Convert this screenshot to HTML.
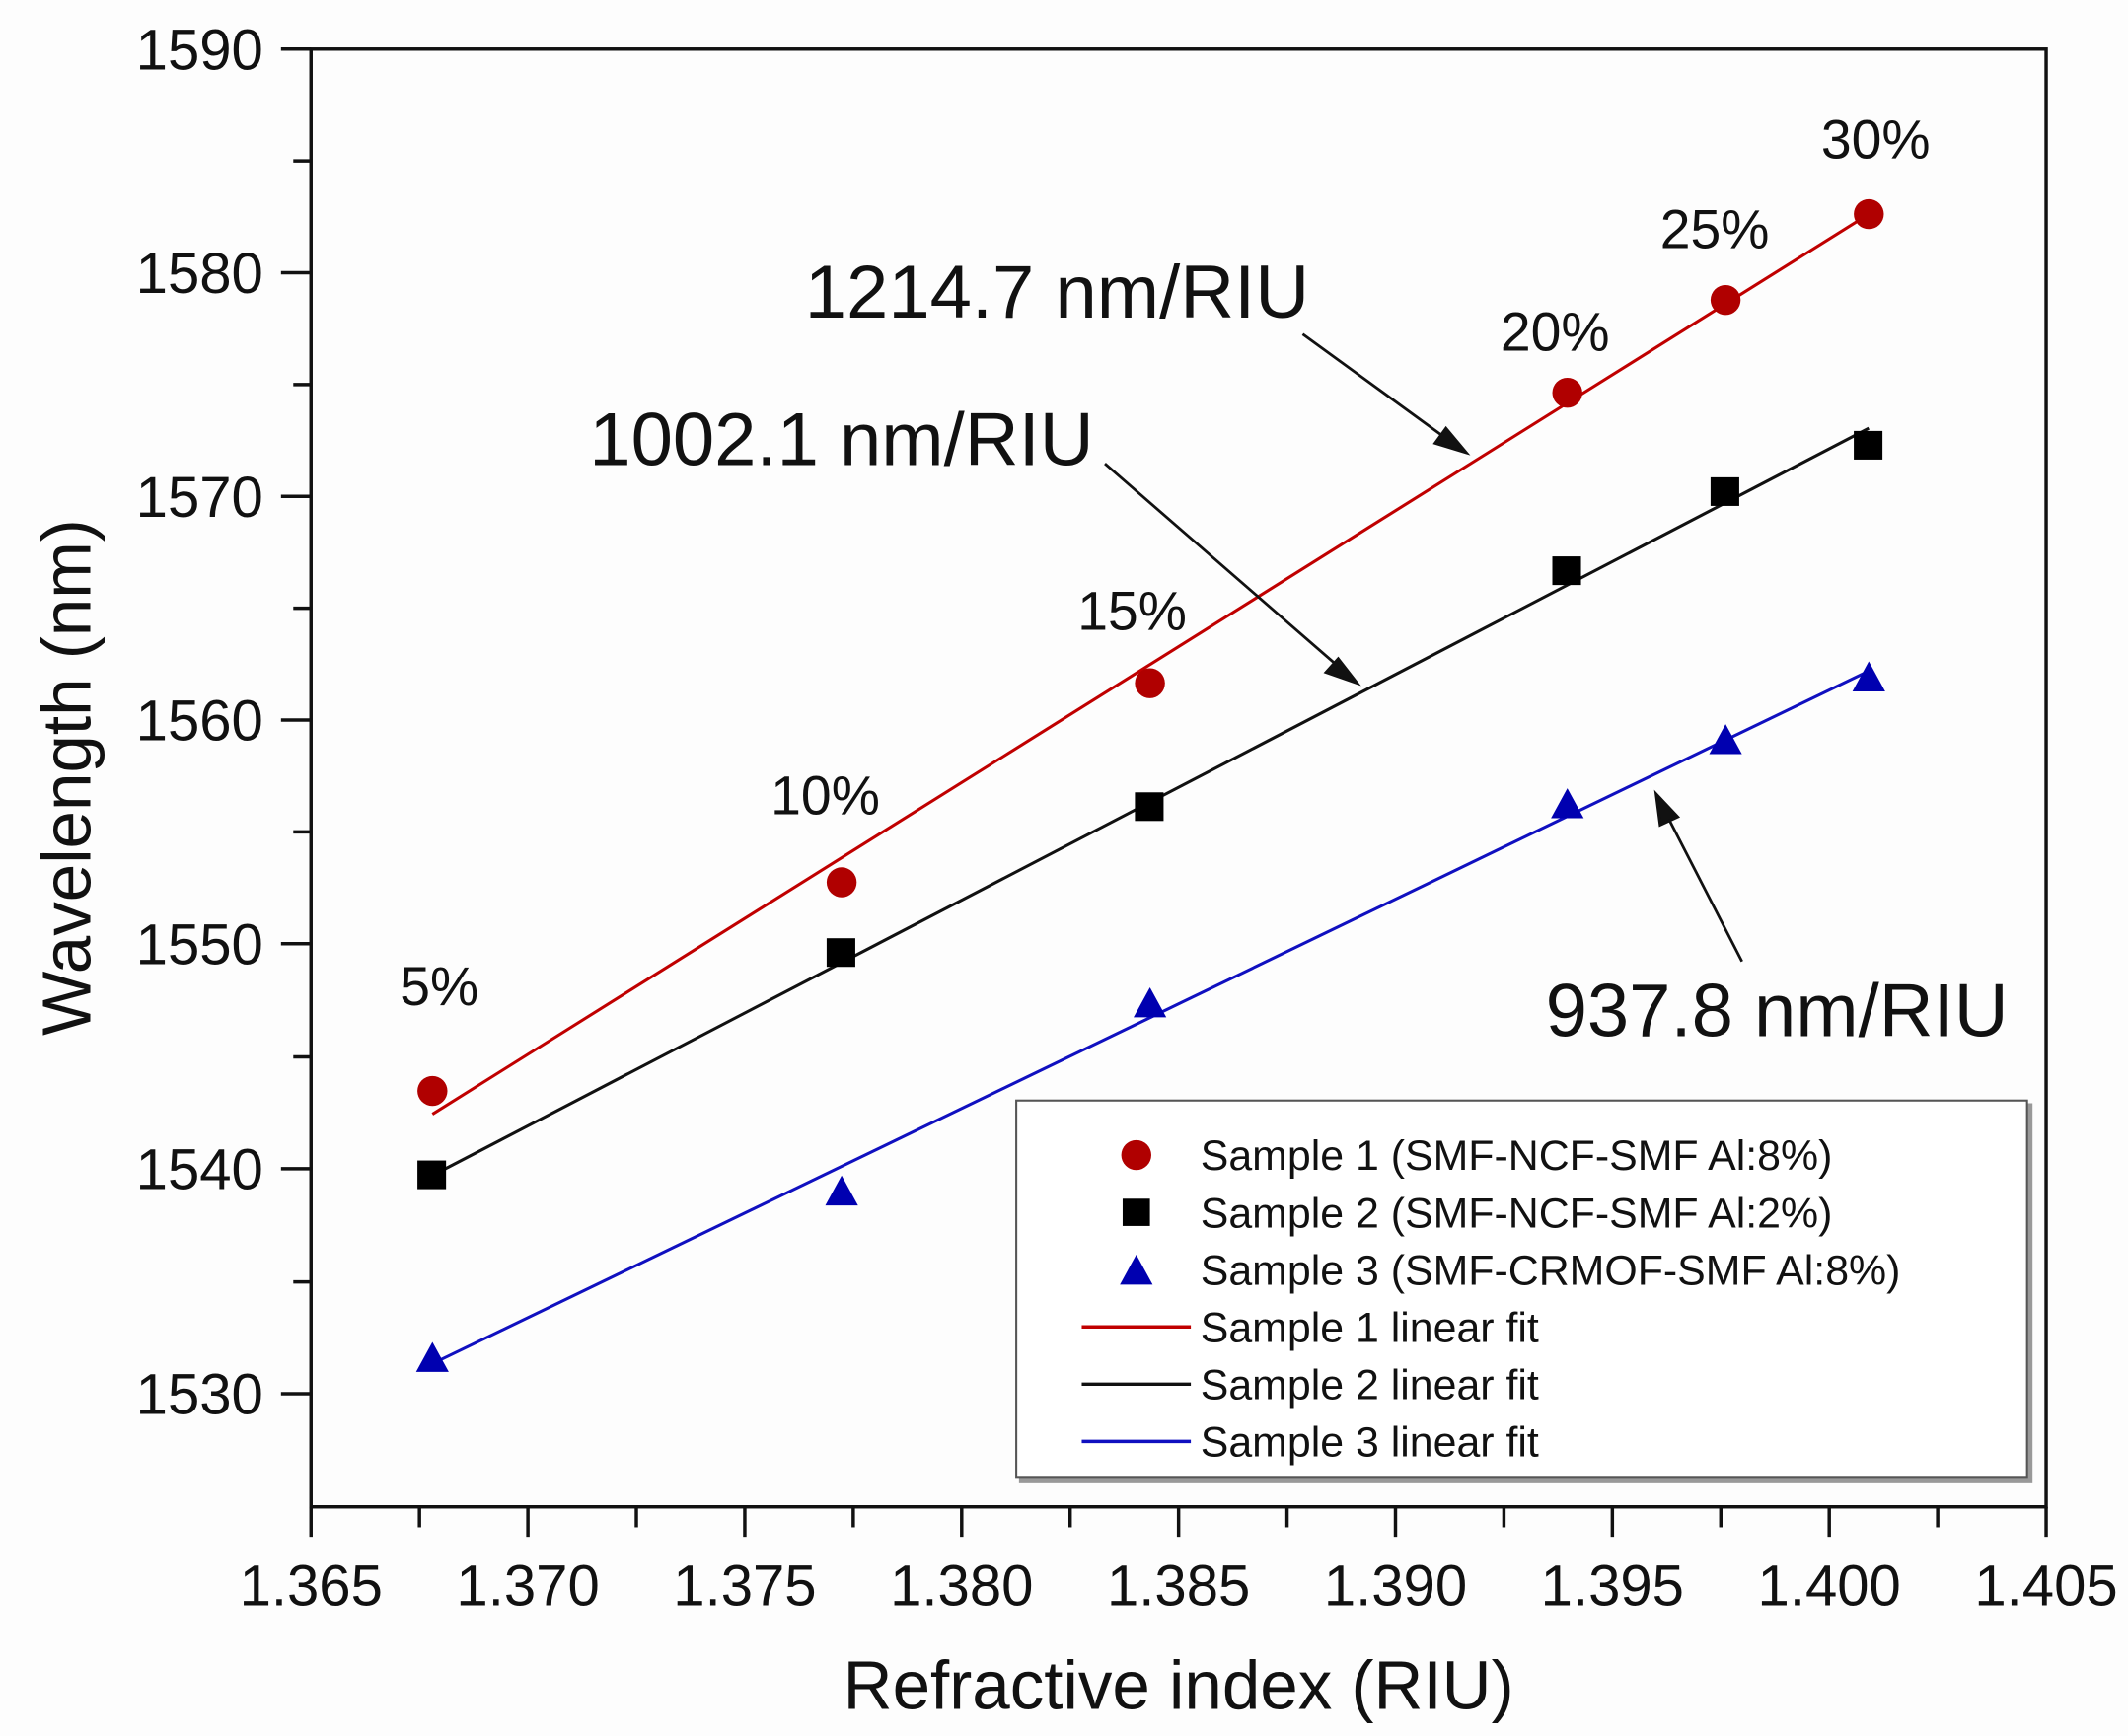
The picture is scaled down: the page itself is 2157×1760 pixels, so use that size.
<!DOCTYPE html>
<html><head><meta charset="utf-8"><style>
html,body{margin:0;padding:0;background:#fff;}
svg{display:block;}
text{font-family:"Liberation Sans",Arial,sans-serif;fill:#111;}
</style></head><body>
<svg width="2157" height="1760" viewBox="0 0 1560 1273" preserveAspectRatio="none" xmlns="http://www.w3.org/2000/svg">
<rect width="1560" height="1273" fill="#fdfdfd"/>
<rect x="228" y="36" width="1272" height="1069" fill="none" stroke="#111" stroke-width="2.5"/>
<g stroke="#111" stroke-width="2.5">
<line x1="206" y1="36" x2="228" y2="36"/>
<line x1="206" y1="200" x2="228" y2="200"/>
<line x1="206" y1="364" x2="228" y2="364"/>
<line x1="206" y1="528" x2="228" y2="528"/>
<line x1="206" y1="692" x2="228" y2="692"/>
<line x1="206" y1="857" x2="228" y2="857"/>
<line x1="206" y1="1022" x2="228" y2="1022"/>
<line x1="215" y1="118" x2="228" y2="118"/>
<line x1="215" y1="282" x2="228" y2="282"/>
<line x1="215" y1="446" x2="228" y2="446"/>
<line x1="215" y1="610" x2="228" y2="610"/>
<line x1="215" y1="775" x2="228" y2="775"/>
<line x1="215" y1="940" x2="228" y2="940"/>
<line x1="228" y1="1105" x2="228" y2="1127"/>
<line x1="387" y1="1105" x2="387" y2="1127"/>
<line x1="546" y1="1105" x2="546" y2="1127"/>
<line x1="705" y1="1105" x2="705" y2="1127"/>
<line x1="864" y1="1105" x2="864" y2="1127"/>
<line x1="1023" y1="1105" x2="1023" y2="1127"/>
<line x1="1182" y1="1105" x2="1182" y2="1127"/>
<line x1="1341" y1="1105" x2="1341" y2="1127"/>
<line x1="1500" y1="1105" x2="1500" y2="1127"/>
<line x1="307.5" y1="1105" x2="307.5" y2="1120"/>
<line x1="466.5" y1="1105" x2="466.5" y2="1120"/>
<line x1="625.5" y1="1105" x2="625.5" y2="1120"/>
<line x1="784.5" y1="1105" x2="784.5" y2="1120"/>
<line x1="943.5" y1="1105" x2="943.5" y2="1120"/>
<line x1="1102.5" y1="1105" x2="1102.5" y2="1120"/>
<line x1="1261.5" y1="1105" x2="1261.5" y2="1120"/>
<line x1="1420.5" y1="1105" x2="1420.5" y2="1120"/>
</g>
<g font-size="42" text-anchor="end">
<text x="193" y="51">1590</text>
<text x="193" y="215">1580</text>
<text x="193" y="379">1570</text>
<text x="193" y="543">1560</text>
<text x="193" y="707">1550</text>
<text x="193" y="872">1540</text>
<text x="193" y="1037">1530</text>
</g>
<g font-size="42" text-anchor="middle">
<text x="228" y="1177">1.365</text>
<text x="387" y="1177">1.370</text>
<text x="546" y="1177">1.375</text>
<text x="705" y="1177">1.380</text>
<text x="864" y="1177">1.385</text>
<text x="1023" y="1177">1.390</text>
<text x="1182" y="1177">1.395</text>
<text x="1341" y="1177">1.400</text>
<text x="1500" y="1177">1.405</text>
</g>
<text x="864" y="1253" font-size="50" text-anchor="middle">Refractive index (RIU)</text>
<text transform="translate(66,570) rotate(-90)" font-size="50" text-anchor="middle">Wavelength (nm)</text>
<line x1="317" y1="817" x2="1370" y2="157" stroke="#c00000" stroke-width="2.2"/>
<line x1="317" y1="862" x2="1370" y2="314" stroke="#111" stroke-width="2.2"/>
<line x1="317" y1="1000" x2="1370" y2="492" stroke="#1010c0" stroke-width="2.2"/>
<g fill="#b00000">
<circle cx="317" cy="800" r="11"/><circle cx="617" cy="647" r="11"/><circle cx="843" cy="501" r="11"/>
<circle cx="1149" cy="288" r="11"/><circle cx="1265" cy="220" r="11"/><circle cx="1370" cy="157" r="11"/>
</g>
<g fill="#000">
<rect x="306" y="851" width="21" height="21"/><rect x="606" y="688" width="21" height="21"/><rect x="832" y="581" width="21" height="21"/>
<rect x="1138" y="408" width="21" height="21"/><rect x="1254" y="350" width="21" height="21"/><rect x="1359" y="316" width="21" height="21"/>
</g>
<g fill="#0000b0">
<polygon points="317,984 305,1006 329,1006"/>
<polygon points="617,862 605,884 629,884"/>
<polygon points="843,724 831,746 855,746"/>
<polygon points="1149,578 1137,600 1161,600"/>
<polygon points="1265,531 1253,553 1277,553"/>
<polygon points="1370,485 1358,507 1382,507"/>
</g>
<g font-size="40" text-anchor="middle">
<text x="322" y="737">5%</text>
<text x="605" y="597">10%</text>
<text x="830" y="462">15%</text>
<text x="1140" y="257">20%</text>
<text x="1257" y="182">25%</text>
<text x="1375" y="116">30%</text>
</g>
<g font-size="55">
<text x="590" y="233">1214.7 nm/RIU</text>
<text x="432" y="341">1002.1 nm/RIU</text>
<text x="1133" y="760">937.8 nm/RIU</text>
</g>
<g stroke="#111" stroke-width="2" fill="#111">
<line x1="955" y1="245" x2="1065" y2="325"/>
<polygon points="1075,332 1052,325 1060,314"/>
<line x1="810" y1="340" x2="986" y2="493"/>
<polygon points="995,501 972,493 981,483"/>
<line x1="1277" y1="705" x2="1219" y2="592"/>
<polygon points="1214,582 1230,599 1217,605"/>
</g>
<rect x="747" y="809" width="743" height="278" fill="#999"/>
<rect x="745" y="807" width="741" height="276" fill="#fff" stroke="#555" stroke-width="1.5"/>
<circle cx="833" cy="847" r="11" fill="#b00000"/>
<rect x="823" y="879" width="20" height="20" fill="#000"/>
<polygon points="833,920 821,942 845,942" fill="#0000b0"/>
<line x1="793" y1="973" x2="873" y2="973" stroke="#c00000" stroke-width="2.5"/>
<line x1="793" y1="1015" x2="873" y2="1015" stroke="#111" stroke-width="2.5"/>
<line x1="793" y1="1057" x2="873" y2="1057" stroke="#1010c0" stroke-width="2.5"/>
<g font-size="31">
<text x="880" y="858">Sample 1 (SMF-NCF-SMF Al:8%)</text>
<text x="880" y="900">Sample 2 (SMF-NCF-SMF Al:2%)</text>
<text x="880" y="942">Sample 3 (SMF-CRMOF-SMF Al:8%)</text>
<text x="880" y="984">Sample 1 linear fit</text>
<text x="880" y="1026">Sample 2 linear fit</text>
<text x="880" y="1068">Sample 3 linear fit</text>
</g>
</svg>
</body></html>
